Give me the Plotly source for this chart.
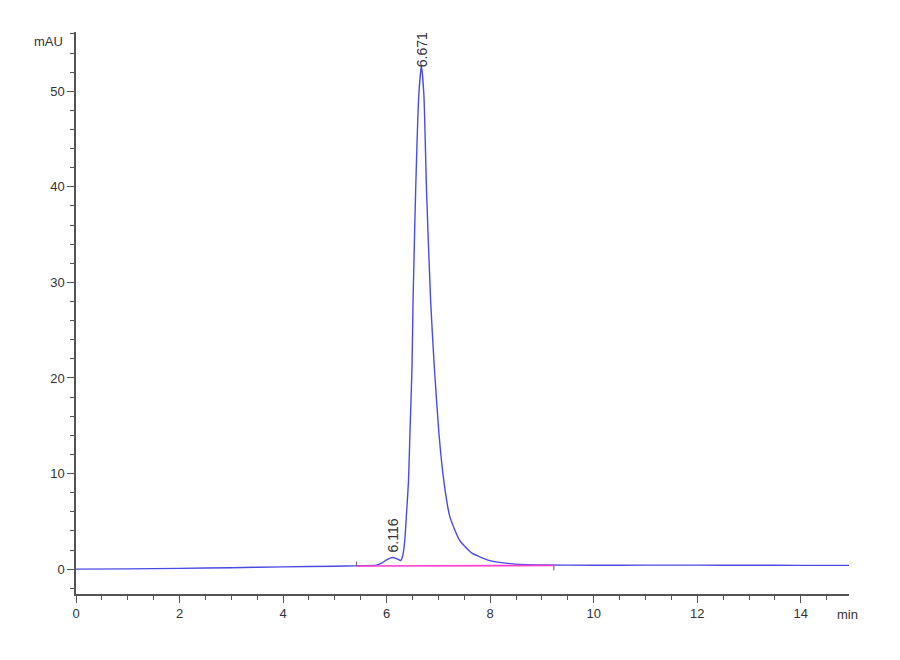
import plotly.graph_objects as go

# chromatogram (min, mAU)
time = [0.0, 1.0, 2.0, 3.0, 4.0, 5.0, 5.4, 5.8, 5.9, 6.0, 6.11, 6.2, 6.27,
        6.31, 6.35, 6.38, 6.42, 6.45, 6.49, 6.51, 6.56, 6.62, 6.671, 6.72,
        6.77, 6.85, 6.92, 7.01, 7.11, 7.22, 7.41, 7.64, 7.99, 8.44, 9.0,
        10.0, 11.0, 12.0, 13.0, 14.0, 14.93]
signal = [0.0, 0.03, 0.08, 0.15, 0.24, 0.31, 0.34, 0.42, 0.62, 0.98, 1.22, 1.08, 0.9,
          1.4, 3.0, 5.5, 9.0, 14.2, 21.2, 28.0, 39.6, 49.5, 52.7, 49.5,
          39.6, 28.0, 21.2, 14.2, 9.0, 5.5, 3.0, 1.7, 0.9, 0.55, 0.44,
          0.41, 0.42, 0.42, 0.41, 0.4, 0.4]

# integration baseline
base_x = [5.42, 9.23]
base_y = [0.33, 0.38]

# peak labels
peak_times = [6.116, 6.671]
peak_tops = [1.5, 52.3]
peak_names = ['6.116', '6.671']

font_name = 'Liberation Sans Narrow, Arial Narrow, Liberation Sans, Arial'

fig = go.Figure()
fig.add_trace(go.Scatter(
	x=time, y=signal,
	mode='lines',
	line=dict(color='rgb(75,75,228)', width=1.4, shape='spline', smoothing=0.5),
	hoverinfo='skip'
))
fig.add_trace(go.Scatter(
	x=base_x, y=base_y,
	mode='lines',
	line=dict(color='rgb(255,60,210)', width=1.6),
	hoverinfo='skip'
))
# start / end markers of integration
fig.add_trace(go.Scatter(
	x=[base_x[0], base_x[0], None, base_x[1], base_x[1]],
	y=[base_y[0], base_y[0] + 0.45, None, base_y[1], base_y[1] - 0.5],
	mode='lines',
	line=dict(color='rgb(90,90,90)', width=1),
	hoverinfo='skip'
))

for t, h, name in zip(peak_times, peak_tops, peak_names):
	fig.add_annotation(
		x=t, y=h, text=name, showarrow=False,
		textangle=-90, xanchor='center', yanchor='bottom',
		font=dict(family=font_name, size=14, color='#333333')
	)

fig.add_annotation(xref='paper', yref='paper', x=-0.014, y=0.983,
	text='mAU', showarrow=False, xanchor='right', yanchor='middle',
	font=dict(family=font_name, size=13, color='#333333'))
fig.add_annotation(xref='paper', yref='paper', x=0.982, y=-0.037,
	text='min', showarrow=False, xanchor='left', yanchor='middle',
	font=dict(family=font_name, size=13, color='#333333'))

# page body adds 8px, margins compensate for that
fig.update_layout(
	width=900, height=660,
	margin=dict(l=68, r=59, t=24, b=74),
	paper_bgcolor='white', plot_bgcolor='white',
	showlegend=False,
	font=dict(family=font_name, size=13, color='#333333')
)
fig.update_xaxes(
	range=[0, 14.93],
	dtick=2, tick0=0,
	ticks='outside', ticklen=7, tickcolor='#555555', tickwidth=1.2,
	minor=dict(dtick=0.5, ticks='outside', ticklen=4, tickcolor='#555555', tickwidth=1.2),
	showline=True, linecolor='#555555', linewidth=1.5,
	showgrid=False, zeroline=False
)
fig.update_yaxes(
	range=[-2.6, 56.2],
	dtick=10, tick0=0,
	ticks='outside', ticklen=7, tickcolor='#555555', tickwidth=1.2,
	minor=dict(dtick=2, ticks='outside', ticklen=4, tickcolor='#555555', tickwidth=1.2),
	showline=True, linecolor='#555555', linewidth=1.5,
	showgrid=False, zeroline=False
)

fig.write_html("out.html")
